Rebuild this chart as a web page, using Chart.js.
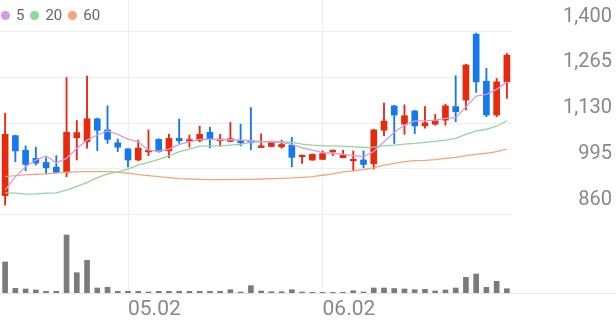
<!DOCTYPE html>
<html lang="ko">
<head>
<meta charset="UTF-8">
<title>일봉 차트</title>
<script src="https://cdn.jsdelivr.net/npm/chart.js"></script>
<style>
    body { margin: 0; background: #fff; font-family: 'Roboto', sans-serif; }
    .wrap { position: relative; width: 616px; height: 321px; }
    .legend { position: absolute; left: 1px; top: 6px; display: flex; align-items: center; font-size: 15px; color: #666; }
    .legend .item { display: flex; align-items: center; margin-right: 6px; }
    .legend .dot { width: 9px; height: 9px; border-radius: 50%; margin-right: 6px; }
</style>
</head>
<body>
<div class="wrap">
    <canvas id="chart" width="616" height="321"></canvas>
    <div class="legend">
        <div class="item"><span class="dot" style="background:#d49ae8"></span>5</div>
        <div class="item"><span class="dot" style="background:#8cd99e"></span>20</div>
        <div class="item"><span class="dot" style="background:#f7a47a"></span>60</div>
    </div>
</div>
<script>
const dates = ['04.15','04.16','04.17','04.18','04.21','04.22','04.23','04.24','04.25','04.28','04.29','04.30',
    '05.02','05.07','05.08','05.09','05.12','05.13','05.14','05.15','05.16','05.19','05.20','05.21','05.22','05.23',
    '05.26','05.27','05.28','05.29','05.30','06.02','06.04','06.05','06.09','06.10','06.11','06.12','06.13',
    '06.16','06.17','06.18','06.19','06.20','06.23','06.24','06.25','06.26','06.27','06.30'];

const opens  = [916,1093,1050,1026,1014,1000,985,1087,1075,1143,1110,1072,1054,1021,1045,1082,1048,1085,1077,1079,
    1103,1078,1076,1078,1078,1058,1061,1060,1065,1031,1021,1023,1045,1028,1019,1021,1010,1109,1181,1127,
    1166,1122,1127,1139,1179,1198,1393,1254,1154,1252];
const closes = [1097,1048,1008,1012,998,984,1103,1102,1143,1109,1082,1059,1021,1056,1050,1046,1085,1078,1081,1097,
    1081,1083,1084,1072,1072,1063,1075,1067,1029,1035,1038,1040,1050,1036,1022,1008,1110,1136,1154,1152,
    1122,1131,1137,1181,1164,1302,1252,1154,1252,1331];
const highs  = [1159,1094,1063,1059,1028,1034,1265,1138,1269,1145,1181,1083,1055,1080,1110,1084,1098,1142,1095,1121,
    1118,1097,1132,1127,1176,1098,1077,1080,1088,1036,1039,1048,1051,1050,1048,1048,1112,1189,1183,1184,
    1168,1179,1156,1186,1270,1304,1396,1292,1262,1336];
const lows   = [888,1016,989,1006,980,982,972,1021,1056,1049,1070,1046,1001,1019,1034,1044,1028,1070,1059,1075,
    1057,1062,1075,1063,1051,1058,1060,1056,1001,1011,1020,1022,1034,1027,989,998,994,1093,1070,1097,
    1099,1115,1124,1124,1134,1169,1221,1149,1149,1203];

const ma5  = [932,972,1001,1021,1033,1013,1026,1055,1080,1095,1107,1097,1083,1075,1050,1047,1053,1067,1075,1082,
    1083,1081,1081,1080,1078,1076,1075,1073,1067,1057,1050,1043,1041,1038,1034,1031,1046,1075,1103,1124,
    1137,1137,1139,1144,1146,1178,1210,1215,1230,1252];
const ma20 = [924,923,920,921,923,924,932,943,954,969,980,986,994,1006,1014,1023,1033,1046,1053,1062,
    1063,1063,1065,1067,1074,1075,1075,1075,1073,1068,1065,1063,1063,1062,1060,1058,1059,1063,1065,1068,
    1070,1073,1076,1080,1085,1097,1107,1112,1121,1137];
const ma60 = [972,975,977,979,980,983,985,986,987,987,987,985,982,978,975,972,969,966,965,964,
    963,963,963,964,964,965,966,967,968,970,972,976,980,986,989,993,998,1006,1011,1016,
    1019,1020,1022,1026,1029,1034,1038,1041,1046,1053];

// 거래량 (천주)
const volumes = [310,47,40,30,17,17,580,203,327,50,57,17,17,17,10,17,17,17,17,17,
    17,17,33,10,73,20,13,13,33,10,7,7,7,7,23,10,50,50,45,40,
    33,37,20,30,50,157,190,57,117,43];

const priceTicks = [860, 995, 1130, 1265, 1400];

const UP = '#e8290c';
const DOWN = '#1478ee';
const candleColor = ctx => closes[ctx.dataIndex] >= opens[ctx.dataIndex] ? UP : DOWN;
const isMonthStart = i => i > 0 && dates[i].slice(0, 2) !== dates[i - 1].slice(0, 2);

const baseLine = {
    id: 'baseLine',
    beforeDatasetsDraw(chart) {
        const c = chart.ctx;
        const y = Math.round(chart.chartArea.bottom) + 0.5;
        c.save();
        c.strokeStyle = '#e6e6e6';
        c.lineWidth = 1;
        c.beginPath();
        c.moveTo(0, y);
        c.lineTo(chart.width, y);
        c.stroke();
        c.restore();
    }
};

new Chart(document.getElementById('chart'), {
    type: 'bar',
    data: {
        labels: dates,
        datasets: [
            { type: 'line', label: '5', data: ma5, borderColor: '#d49ae8', borderWidth: 1.3, pointRadius: 0, tension: 0, yAxisID: 'y', order: 1 },
            { type: 'line', label: '20', data: ma20, borderColor: '#8cd99e', borderWidth: 1.3, pointRadius: 0, tension: 0, yAxisID: 'y', order: 1 },
            { type: 'line', label: '60', data: ma60, borderColor: '#f7a47a', borderWidth: 1.3, pointRadius: 0, tension: 0, yAxisID: 'y', order: 1 },
            { label: 'body', data: opens.map((o, i) => [o, closes[i]]), backgroundColor: candleColor, barThickness: 6, minBarLength: 1.5, grouped: false, yAxisID: 'y', order: 2 },
            { label: 'wick', data: lows.map((l, i) => [l, highs[i]]), backgroundColor: candleColor, barThickness: 1.2, grouped: false, yAxisID: 'y', order: 3 },
            { label: 'volume', data: volumes, backgroundColor: '#7b7b7b', barThickness: 5, grouped: false, yAxisID: 'yv', order: 4 }
        ]
    },
    options: {
        responsive: false,
        animation: false,
        devicePixelRatio: 1,
        layout: { padding: { left: 0, right: 4, top: 0, bottom: 0 } },
        plugins: { legend: { display: false }, tooltip: { enabled: false } },
        scales: {
            x: {
                offset: true,
                border: { display: false },
                grid: {
                    offset: false,
                    drawTicks: false,
                    color: ctx => isMonthStart(ctx.index) ? '#eeeeee' : 'rgba(0,0,0,0)'
                },
                ticks: {
                    autoSkip: false,
                    maxRotation: 0,
                    align: 'start',
                    padding: 4,
                    color: '#888',
                    font: { family: 'Roboto', size: 21 },
                    callback: (v, i) => isMonthStart(i) ? dates[i] : ''
                },
                afterFit: s => { s.height = 28; s.paddingLeft = 0; s.paddingRight = 0; }
            },
            y: {
                position: 'right',
                min: 628,
                max: 1494,
                border: { display: false },
                grid: { drawTicks: false, color: '#eeeeee' },
                afterBuildTicks: s => { s.ticks = priceTicks.map(v => ({ value: v })); },
                ticks: {
                    crossAlign: 'far',
                    padding: 0,
                    labelOffset: -15,
                    color: '#888',
                    font: { family: 'Roboto', size: 20 },
                    callback: v => v.toLocaleString('en-US')
                },
                afterFit: s => { s.width = 100; s.paddingTop = 0; s.paddingBottom = 0; }
            },
            yv: {
                display: false,
                min: 0,
                max: 2930
            }
        }
    },
    plugins: [baseLine]
});
</script>
</body>
</html>
